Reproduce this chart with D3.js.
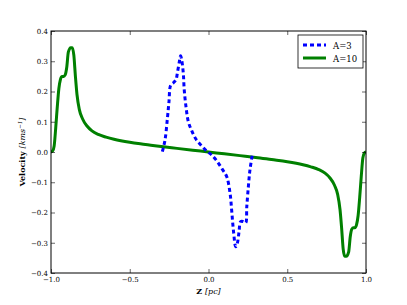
<!DOCTYPE html>
<html><head><meta charset="utf-8">
<script src="https://cdn.jsdelivr.net/npm/d3@7"></script>
<style>body{margin:0;background:#fff}svg{display:block}text{font-family:"DejaVu Serif","Liberation Serif",serif}</style>
</head><body><svg id="c" width="407" height="305"></svg>
<script>
const seriesNames = ["A=3", "A=10"];
const a3Z = [-0.293,-0.276,-0.261,-0.251,-0.240,-0.223,-0.206,-0.198,-0.185,-0.177,-0.170,-0.160,-0.154,-0.143,-0.128,-0.107,-0.079,-0.043,-0.011,0.020,0.052,0.084,0.116,0.137,0.147,0.158,0.173,0.183,0.194,0.204,0.221,0.236,0.243,0.253,0.263,0.278];
const a3V = [0.001,0.04,0.111,0.166,0.221,0.229,0.24,0.26,0.299,0.318,0.304,0.26,0.205,0.15,0.10,0.071,0.042,0.02,0.003,-0.01,-0.029,-0.054,-0.082,-0.137,-0.192,-0.258,-0.313,-0.302,-0.263,-0.23,-0.23,-0.234,-0.181,-0.115,-0.06,-0.01];
const a10Z = [-1.0,-0.99,-0.98,-0.97,-0.96,-0.95,-0.94,-0.93,-0.92,-0.91,-0.90,-0.89,-0.875,-0.865,-0.855,-0.845,-0.835,-0.82,-0.80,-0.77,-0.74,-0.70,-0.65,-0.6,-0.5,-0.4,-0.3,-0.2,-0.1,0,0.1,0.2,0.3,0.4,0.5,0.6,0.65,0.70,0.74,0.77,0.80,0.82,0.835,0.845,0.855,0.865,0.875,0.89,0.90,0.91,0.92,0.93,0.94,0.95,0.96,0.97,0.98,0.99,1.0];
const a10V = [0.0,0.003,0.02,0.08,0.15,0.21,0.24,0.25,0.25,0.255,0.28,0.33,0.345,0.345,0.32,0.25,0.19,0.14,0.11,0.085,0.07,0.058,0.049,0.042,0.032,0.025,0.018,0.012,0.006,0,-0.006,-0.012,-0.018,-0.025,-0.032,-0.042,-0.049,-0.058,-0.07,-0.085,-0.11,-0.14,-0.19,-0.25,-0.32,-0.345,-0.345,-0.33,-0.28,-0.255,-0.25,-0.25,-0.24,-0.21,-0.15,-0.08,-0.02,-0.003,0.0];
const xTicks = [-1.0,-0.5,0.0,0.5,1.0];
const yTicks = [-0.4,-0.3,-0.2,-0.1,0.0,0.1,0.2,0.3,0.4];

const L=51,R=366,T=31,B=273;
const svg=d3.select("#c");
const x=d3.scaleLinear().domain([-1,1]).range([L,R]);
const y=d3.scaleLinear().domain([-0.4,0.4]).range([B,T]);
const fmt=d=>d3.format(".1f")(d).replace("-","\u2212");

const line=d3.line().x(d=>x(d[0])).y(d=>y(d[1])).curve(d3.curveMonotoneX);
svg.append("clipPath").attr("id","cp").append("rect").attr("x",L).attr("y",T).attr("width",R-L).attr("height",B-T);
const g=svg.append("g").attr("clip-path","url(#cp)");
g.append("path").datum(a10Z.map((z,i)=>[z,a10V[i]])).attr("d",line).attr("fill","none").attr("stroke","#008000").attr("stroke-width",3);
g.append("path").datum(a3Z.map((z,i)=>[z,a3V[i]])).attr("d",d3.line().x(d=>x(d[0])).y(d=>y(d[1])).curve(d3.curveCatmullRom)).attr("fill","none").attr("stroke","#0000ff").attr("stroke-width",3).attr("stroke-dasharray","4,3");

const ax=svg.append("g");
ax.append("g").attr("transform",`translate(0,${B})`).call(d3.axisBottom(x).tickValues(xTicks).tickFormat(fmt).tickSizeInner(-4).tickSizeOuter(0).tickPadding(4));
ax.append("g").attr("transform",`translate(0,${T})`).call(d3.axisTop(x).tickValues(xTicks).tickFormat("").tickSizeInner(-4).tickSizeOuter(0));
ax.append("g").attr("transform",`translate(${L},0)`).call(d3.axisLeft(y).tickValues(yTicks).tickFormat(fmt).tickSizeInner(-4).tickSizeOuter(0).tickPadding(3));
ax.append("g").attr("transform",`translate(${R},0)`).call(d3.axisRight(y).tickValues(yTicks).tickFormat("").tickSizeInner(-4).tickSizeOuter(0));
ax.selectAll(".domain").remove();
ax.selectAll("text").attr("font-size",7).attr("fill","#000").attr("font-family","DejaVu Serif, serif");
ax.selectAll(".tick line").attr("stroke","#000").attr("stroke-width",0.6);
svg.append("rect").attr("x",L).attr("y",T).attr("width",R-L).attr("height",B-T).attr("fill","none").attr("stroke","#000").attr("stroke-width",1);

const xl=svg.append("text").attr("x",(L+R)/2).attr("y",294).attr("text-anchor","middle").attr("font-size",8);
xl.append("tspan").attr("font-weight","bold").text("Z ");
xl.append("tspan").attr("font-style","italic").text("[pc]");
const yl=svg.append("text").attr("transform",`translate(25,${(T+B)/2}) rotate(-90)`).attr("text-anchor","middle").attr("font-size",8);
yl.append("tspan").attr("font-weight","bold").text("Velocity ");
yl.append("tspan").attr("font-style","italic").text("[kms");
yl.append("tspan").attr("font-style","italic").attr("font-size",5.5).attr("dy",-3).text("\u22121");
yl.append("tspan").attr("font-style","italic").attr("dy",3).text("]");

const lg=svg.append("g").attr("transform","translate(298,35)");
lg.append("rect").attr("width",65).attr("height",33).attr("fill","#fff").attr("stroke","#000").attr("stroke-width",0.8);
const cols=["#0000ff","#008000"], dash=["4,3",null];
seriesNames.forEach((n,i)=>{
  const yy=10+i*13;
  lg.append("line").attr("x1",5).attr("x2",28).attr("y1",yy).attr("y2",yy).attr("stroke",cols[i]).attr("stroke-width",3).attr("stroke-dasharray",dash[i]);
  lg.append("text").attr("x",35).attr("y",yy+3.5).attr("font-size",8.5).text(n);
});
</script></body></html>
